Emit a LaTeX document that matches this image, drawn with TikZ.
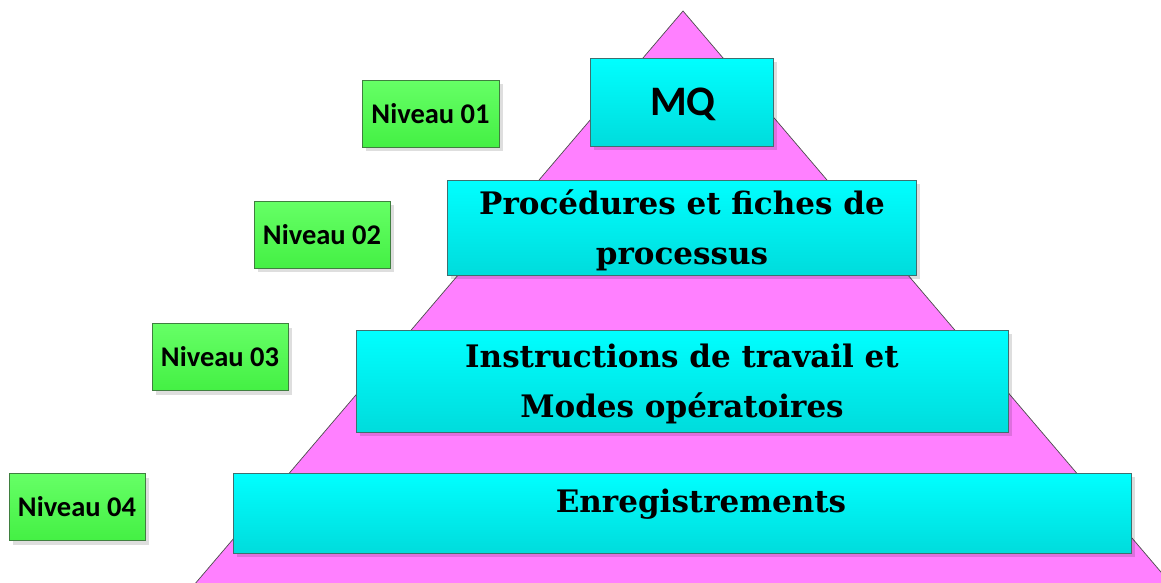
\documentclass[tikz,border=0pt]{standalone}
\usepackage{fontspec}
\usetikzlibrary{shadows}
\newfontfamily\calfont{Carlito}
\newfontfamily\serfont{DejaVu Serif}
\definecolor{pinkfill}{HTML}{FF80FF}
\definecolor{cyantop}{HTML}{00FFFF}
\definecolor{cyanbot}{HTML}{00DCDC}
\definecolor{greentop}{HTML}{66FF66}
\definecolor{greenbot}{HTML}{44F044}
\definecolor{boxedge}{HTML}{3F6F6F}
\definecolor{greenedge}{HTML}{3F7F3F}
\tikzset{
  shad/.style={drop shadow={shadow xshift=4pt, shadow yshift=-4pt, fill=black, opacity=0.13}},
  levelbox/.style={draw=boxedge, line width=0.9pt, top color=cyantop, bottom color=cyanbot, shad,
    inner sep=0pt},
  leveltext/.style={align=center, inner sep=0pt, font=\serfont\bfseries\fontsize{31}{50}\selectfont},
  nivbox/.style={draw=greenedge, line width=0.9pt, top color=greentop, bottom color=greenbot, shad,
    inner sep=0pt, minimum width=136pt, minimum height=67pt, font=\calfont\bfseries\fontsize{28.5}{32}\selectfont}
}
\begin{document}
\begin{tikzpicture}[x=1pt,y=-1pt]
\useasboundingbox (0,0) rectangle (1161,582);
\fill[white] (0,0) rectangle (1161,582);
\coordinate (apex) at (683,11);
\coordinate (bl) at (194,585);
\coordinate (br) at (1172,585);
\draw[fill=pinkfill, draw=black!70, line width=0.7pt] (bl) -- (apex) -- (br);
\node[levelbox, minimum width=183pt, minimum height=88pt] (mq) at (681.5,102) {};
\node[inner sep=0pt, font=\calfont\bfseries\fontsize{42}{50}\selectfont] (mqt) at (683,104) {MQ};
\node[levelbox, minimum width=469pt, minimum height=95pt] (proc) at (681.5,227.5) {};
\node[leveltext] (proct) at (682,230) {Proc\'edures et fiches de\\processus};
\node[levelbox, minimum width=652pt, minimum height=102pt] (inst) at (682,381) {};
\node[leveltext] (instt) at (682,384) {Instructions de travail et\\Modes op\'eratoires};
\node[levelbox, minimum width=898pt, minimum height=80pt] (enr) at (682,513) {};
\node[leveltext] (enrt) at (701,504) {Enregistrements};
\node[nivbox, minimum width=137pt] (n1) at (430.5,113.5) {Niveau 01};
\node[nivbox] (n2) at (322,234.5) {Niveau 02};
\node[nivbox] (n3) at (220,357) {Niveau 03};
\node[nivbox] (n4) at (77,507) {Niveau 04};
\end{tikzpicture}
\end{document}
